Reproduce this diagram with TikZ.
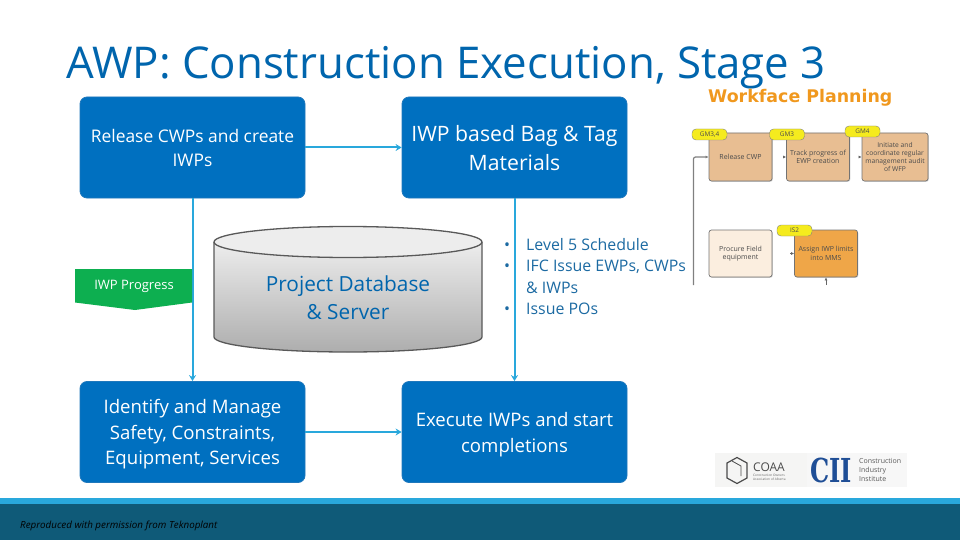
\documentclass[tikz,border=0pt]{standalone}
\usepackage{fontspec}
\setmainfont{Open Sans}
\usetikzlibrary{arrows.meta,shadows,calc}
\definecolor{awpblue}{HTML}{0070C0}
\definecolor{awpedge}{HTML}{1F78BC}
\definecolor{awpcyan}{HTML}{29A8DC}
\definecolor{awpteal}{HTML}{0F5A78}
\definecolor{awpgreen}{HTML}{0DAF50}
\definecolor{tanbox}{HTML}{E8BE92}
\definecolor{orangebox}{HTML}{EFA648}
\definecolor{creambox}{HTML}{FBEEDF}
\definecolor{tagyellow}{HTML}{F5EB1E}
\definecolor{wfp}{HTML}{F0981E}
\definecolor{ciiblue}{HTML}{1F4E96}
\definecolor{bullettext}{HTML}{1C6AA2}
\tikzset{
 bluebox/.style={draw=awpedge,line width=.8pt,fill=awpblue,rounded corners=7pt,text=white,align=center,minimum width=225pt,minimum height=101pt,inner sep=0pt},
 flow/.style={draw=awpcyan,line width=2pt,-{Stealth[length=6pt,width=7pt]}},
 mini/.style={draw=black!55,line width=.7pt,rounded corners=2.5pt,align=center,text=black!70,font=\fontsize{7}{8.3}\selectfont,inner sep=0pt,minimum width=63pt,minimum height=48pt,drop shadow={shadow xshift=.8pt,shadow yshift=-.8pt,fill=black!35}},
 minitag/.style={draw=black!50,line width=.4pt,fill=tagyellow,rounded corners=4pt,minimum width=35pt,minimum height=11pt,inner sep=0pt,text=black!70,font=\fontsize{6.4}{7}\selectfont},
 minilink/.style={draw=black!60,line width=.6pt,-{Latex[length=3pt,width=3pt]}},
}
\newcommand{\lowered}[2]{\raisebox{-#1}[\height][\depth]{\begin{tabular}{@{}c@{}}#2\end{tabular}}}
\newfontfamily\ciifont[FakeStretch=0.73]{DejaVu Serif}
\begin{document}
\begin{tikzpicture}[x=1pt,y=-1pt]
\useasboundingbox (0,0) rectangle (960,540);
% footer
\fill[awpcyan] (0,498) rectangle (960,504);
\fill[awpteal] (0,504) rectangle (960,540);
\node[anchor=west,inner sep=0pt,font=\itshape\fontsize{9.8}{11}\selectfont,text=black] (credit) at (20,525.5) {Reproduced with permission from Teknoplant};
% title
\node[anchor=west,inner sep=0pt,text=awpblue!90!black,font=\fontsize{43.8}{50}\selectfont] (title) at (66,68) {AWP: Construction Execution, Stage 3};
\node[anchor=west,inner sep=0pt,text=wfp,font=\fontspec{DejaVu Sans}\bfseries\fontsize{17.4}{20}\selectfont] (planning) at (708,97.5) {Workface Planning};
% blue boxes
\node[bluebox,font=\fontsize{17.4}{25}\selectfont] (release) at (192.5,147.5) {\lowered{2pt}{Release CWPs and create\\IWPs}};
\node[bluebox,font=\fontsize{21.2}{29}\selectfont] (bag) at (514.5,147.5) {\lowered{3pt}{IWP based Bag \& Tag\\Materials}};
\node[bluebox,font=\fontsize{18.6}{25.5}\selectfont] (identify) at (192.5,432) {\lowered{2pt}{Identify and Manage\\Safety, Constraints,\\Equipment, Services}};
\node[bluebox,font=\fontsize{18.6}{25.5}\selectfont] (execute) at (514.5,432) {\lowered{2.5pt}{Execute IWPs and start\\completions}};
% connectors
\draw[flow] (release) -- (bag);
\draw[flow] (release) -- (identify);
\draw[flow] (identify) -- (execute);
\draw[flow] (bag) -- (execute);
% green tag
\fill[awpgreen] (75,269) -- (192,269) -- (192,302.5) -- (135,310) -- (75,302.5) -- cycle;
\node[text=white,inner sep=0pt,font=\fontsize{13}{14}\selectfont] (progress) at (134,286) {IWP Progress};
% cylinder
\shade[top color=black!7,bottom color=black!32] (214,242) -- (214,337) arc[start angle=180,end angle=0,x radius=134,y radius=15] -- (482,242) -- cycle;
\draw[black!65,line width=1.3pt,fill=black!7] (348,242) ellipse[x radius=134,y radius=15.5];
\draw[black!65,line width=1.3pt] (214,242) -- (214,337) arc[start angle=180,end angle=0,x radius=134,y radius=15] -- (482,242);
\node[align=center,inner sep=0pt,text=awpblue!90!black,font=\fontsize{20.8}{28}\selectfont] (database) at (348,297.5) {Project Database\\\& Server};
% bullets
\node[anchor=north west,inner sep=0pt,text=bullettext,font=\fontsize{15.9}{21.4}\selectfont,align=left] (bullets) at (504,238) {%
\makebox[22pt][l]{•}Level 5 Schedule\\
\makebox[22pt][l]{•}IFC Issue EWPs, CWPs\\
\makebox[22pt][l]{}\& IWPs\\
\makebox[22pt][l]{•}Issue POs};
% workface mini chart
\coordinate (feed) at (693.5,285);
\node[mini,fill=tanbox] (m1) at (740.5,157) {Release CWP};
\node[mini,fill=tanbox] (m2) at (818,157) {Track progress of\\EWP creation};
\node[mini,fill=tanbox,minimum width=66pt,font=\fontsize{6.7}{8.3}\selectfont] (m3) at (895,157) {Initiate and\\coordinate regular\\management audit\\of WFP};
\node[mini,fill=creambox,minimum height=47pt] (m4) at (740.5,253.5) {Procure Field\\equipment};
\node[mini,fill=orangebox,minimum height=47pt] (m5) at (826,253.5) {Assign IWP limits\\into MMS};
\node[minitag] (t1) at (709.5,134.5) {GM3,4};
\node[minitag] (t2) at (787,134.5) {GM3};
\node[minitag] (t3) at (862.5,131.5) {GM4};
\node[minitag] (t4) at (794.5,230.5) {IS2};
\draw[black!50,line width=1.2pt,rounded corners=2pt,-{Latex[length=3pt,width=3pt]}] (feed) |- (m1.west);
\draw[minilink] ($(m1.east)+(11,0)$) -- (m2.west);
\draw[minilink] ($(m2.east)+(9,0)$) -- (m3.west);
\draw[minilink] ($(m4.east)+(18,0)$) -- (m5.west);
\coordinate (feedb) at (826,285);
\draw[minilink] (feedb) -- (m5.south);
% logos
\fill[black!3] (715,453) rectangle (907,487);
\fill[yellow!8!black!5] (715,453) rectangle (807,487);
\node[inner sep=0pt,anchor=west,font=\fontsize{12}{12}\selectfont,text=black!70] (coaa) at (753,467) {COAA};
\draw[black!70,line width=1.2pt] (737,457.5) -- (747,463) -- (747,478) -- (737,483.5) -- (727,478) -- (727,463) -- cycle;
\draw[black!70,line width=.8pt] (732,461) -- (741,466) -- (741,476);
\node[inner sep=0pt,anchor=west,font=\fontsize{3.2}{3.8}\selectfont,text=black!60,align=left] (coaasub) at (753,477) {Construction Owners\\Association of Alberta};
\node[inner sep=0pt,font=\ciifont\bfseries\fontsize{33}{33}\selectfont,text=ciiblue] (cii) at (831,470) {CII};
\node[inner sep=0pt,anchor=west,align=left,font=\fontsize{7}{9.4}\selectfont,text=black!65] (ciitext) at (859,470) {Construction\\Industry\\Institute};
\end{tikzpicture}
\end{document}
